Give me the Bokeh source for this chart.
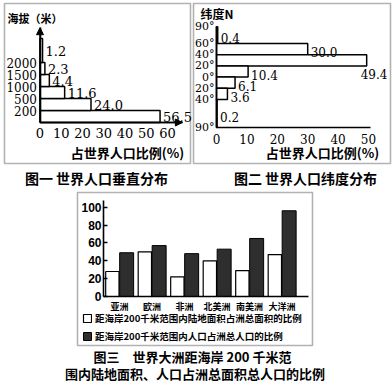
from bokeh.plotting import figure
from bokeh.models import (Range1d, LinearAxis, FixedTicker, Label, BoxAnnotation,
                          Arrow, NormalHead, Legend, LegendItem, ColumnDataSource)
from bokeh.core.properties import value
from bokeh.embed import file_html
from bokeh.resources import INLINE

W, H = 392, 383

# ---------------- data ----------------
# Figure 1: vertical distribution (altitude bands, metres)
alt_bands = ["0-200", "200-500", "500-1000", "1000-1500", "1500-2000", ">2000"]
alt_tick_labels = ["200", "500", "1000", "1500", "2000"]
alt_share = [56.5, 24.0, 11.6, 4.4, 2.3, 1.2]
x1_ticks = [0, 10, 20, 30, 40, 50, 60]

# Figure 2: latitude distribution
lat_low = [60, 40, 20, 0, -20, -40, -90]
lat_high = [90, 60, 40, 20, 0, -20, -40]
lat_share = [0.4, 30.0, 49.4, 10.4, 6.1, 3.6, 0.2]
lat_ticks = [-90, -40, -20, 0, 20, 40, 60, 90]
lat_tick_labels = ["90°", "40°", "20°", "0°", "20°", "40°", "60°", "90°"]
x2_ticks = [0, 10, 20, 30, 40, 50]

# Figure 3: share within 200 km of the coast
continents = ["亚洲", "欧洲", "非洲", "北美洲", "南美洲", "大洋洲"]
coast_land = [28, 50, 22, 40, 29, 47]
coast_pop = [49, 57, 48, 53, 65, 96]
y3_ticks = [0, 20, 40, 60, 80, 100]

# ---------------- layout helpers ----------------
def xr(v0, p0, v1, p1):
    k = (p1 - p0) / (v1 - v0)
    return Range1d(v0 - p0 / k, v0 + (W - p0) / k)

def yr(v0, p0, v1, p1):
    k = (p0 - p1) / (v1 - v0)
    return Range1d(v0 - (H - p0) / k, v0 + p0 / k)

p = figure(width=W, height=H, x_range=Range1d(0, W), y_range=Range1d(H, 0),
           x_axis_type=None, y_axis_type=None, toolbar_location=None,
           output_backend="svg", min_border=0, outline_line_color=None,
           background_fill_color="white", border_fill_color="white")
p.grid.visible = False

p.extra_x_ranges = {"x1": xr(0, 39.5, 60, 167), "x2": xr(0, 216, 50, 368),
                    "x3": xr(0, 119, 5, 281.5)}
p.extra_y_ranges = {"y1": yr(0, 122, 5, 62), "y2": yr(0, 76.6, 60, 43),
                    "y3": yr(0, 296, 100, 206.7)}

SERIF = "DejaVu Serif"
CJK = "Noto Sans CJK SC"

def make_axis(side, xn, yn, loc, ticks, bounds, overrides=None, font=SERIF,
              size="13px", style="normal", standoff=3, tick_in=0, tick_out=0):
    ax = LinearAxis(x_range_name=xn, y_range_name=yn, fixed_location=loc,
                    bounds=bounds, ticker=FixedTicker(ticks=ticks))
    ax.axis_line_color = "black"
    ax.axis_line_width = 1.6
    ax.major_tick_in = tick_in
    ax.major_tick_out = tick_out
    ax.major_tick_line_color = "black"
    ax.major_tick_line_width = 1.4
    ax.minor_tick_line_color = None
    ax.major_label_text_font = font
    ax.major_label_text_font_size = size
    ax.major_label_text_font_style = style
    ax.major_label_text_color = "black"
    ax.major_label_standoff = standoff
    if overrides:
        ax.major_label_overrides = overrides
    p.add_layout(ax, side)
    return ax

def label(x, y, text, size, font=CJK, style="bold", align="center"):
    p.add_layout(Label(x=x, y=y, text=text, text_font=font, text_font_size=size,
                       text_font_style=style, text_align=align,
                       text_baseline="middle", text_color="black"))

def frame_box(l, r, t, b):
    p.add_layout(BoxAnnotation(left=l, right=r, top=t, bottom=b, fill_alpha=0,
                               line_color="black", line_width=1.6, level="overlay"))

# ---------------- Figure 1 ----------------
b1 = list(range(len(alt_share)))
t1 = b1[1:] + [b1[-1] + 2]
c1 = [(b + t) / 2 for b, t in zip(b1, t1)]
p.quad(left=0, right=alt_share, bottom=b1, top=t1, fill_color="white",
       line_color="black", line_width=1.5, x_range_name="x1", y_range_name="y1")
p.text(x=alt_share, y=c1, text=[f"{v:.1f}" for v in alt_share], x_offset=3,
       text_baseline="middle", text_font=value(SERIF), text_font_size="13px",
       text_color="black", x_range_name="x1", y_range_name="y1")
make_axis("below", "x1", "y1", 0, x1_ticks, (0, 67), size="13px", standoff=5)
make_axis("left", "x1", "y1", 0, [1, 2, 3, 4, 5], (0, 7.9),
          overrides={i + 1: s for i, s in enumerate(alt_tick_labels)},
          size="12px", standoff=3)
for xs, ys, xe, ye in [(0, 0, 0, 7.9), (0, 0, 67, 0)]:
    p.add_layout(Arrow(x_start=xs, y_start=ys, x_end=xe, y_end=ye,
                       end=NormalHead(size=7, fill_color="black", line_color="black"),
                       line_width=1.4, line_color="black",
                       x_range_name="x1", y_range_name="y1"))
frame_box(4, 190, 3, 163)
label(7, 17, "海拔（米）", "11px", align="left")
label(127, 152, "占世界人口比例(%)", "13px")
label(96, 177, "图一 世界人口垂直分布", "14px")

# ---------------- Figure 2 ----------------
c2 = [(a + b) / 2 for a, b in zip(lat_low, lat_high)]
xo2 = [-6 if v > 45 else 3 for v in lat_share]
yo2 = [14 if v > 45 else 3 for v in lat_share]
src2 = ColumnDataSource(dict(left=[0] * len(lat_share), right=lat_share,
                             bottom=lat_low, top=lat_high, cy=c2,
                             txt=[f"{v:.1f}" for v in lat_share], xo=xo2, yo=yo2))
p.quad(left="left", right="right", bottom="bottom", top="top", source=src2,
       fill_color="white", line_color="black", line_width=1.5,
       x_range_name="x2", y_range_name="y2")
p.text(x="right", y="cy", text="txt", x_offset="xo", y_offset="yo", source=src2,
       text_baseline="middle", text_font=value(SERIF), text_font_size="12px",
       text_color="black", x_range_name="x2", y_range_name="y2")
make_axis("below", "x2", "y2", -90, x2_ticks, (0, 50.5), size="12px", standoff=6)
make_axis("left", "x2", "y2", 0, lat_ticks, (-90, 90),
          overrides={t: s for t, s in zip(lat_ticks, lat_tick_labels)},
          size="11px", standoff=2)
frame_box(193, 390, 3, 163)
label(200, 13, "纬度N", "12px", align="left")
label(322, 152, "占世界人口比例(%)", "13px")
label(305, 177, "图二 世界人口纬度分布", "14px")

# ---------------- Figure 3 ----------------
idx = list(range(len(continents)))
r_land = p.vbar(x=[i - 0.22 for i in idx], top=coast_land, width=0.41, bottom=0,
                fill_color="white", line_color="black", line_width=1.2,
                x_range_name="x3", y_range_name="y3")
r_pop = p.vbar(x=[i + 0.22 for i in idx], top=coast_pop, width=0.43, bottom=0,
               fill_color="#2e2e2e", line_color="black", line_width=1.0,
               x_range_name="x3", y_range_name="y3")
x3_left = (103 - 119) / 32.5
make_axis("below", "x3", "y3", 0, idx, (x3_left, 5.8),
          overrides={i: c for i, c in zip(idx, continents)}, font=CJK,
          size="9px", style="bold", standoff=3)
make_axis("left", "x3", "y3", x3_left, y3_ticks, (0, 108), font="Liberation Sans",
          size="12px", style="bold", standoff=2, tick_in=4)
legend = Legend(items=[LegendItem(label="距海岸200千米范围内陆地面积占洲总面积的比例", renderers=[r_land]),
                       LegendItem(label="距海岸200千米范围内人口占洲总人口的比例", renderers=[r_pop])],
                location=(82, 40), orientation="vertical", padding=0, margin=0,
                spacing=4, glyph_width=10, glyph_height=10, label_height=12,
                label_standoff=3, label_text_font=CJK, label_text_font_size="9.5px",
                label_text_font_style="bold", label_text_color="black",
                border_line_color=None, background_fill_alpha=0)
p.add_layout(legend)
frame_box(77, 312, 192, 345)
label(192, 356, "图三\u3000世界大洲距海岸 200 千米范", "13px")
label(194.5, 373, "围内陆地面积、人口占洲总面积总人口的比例", "13px")

open("out.html", "w").write(file_html(p, INLINE))
